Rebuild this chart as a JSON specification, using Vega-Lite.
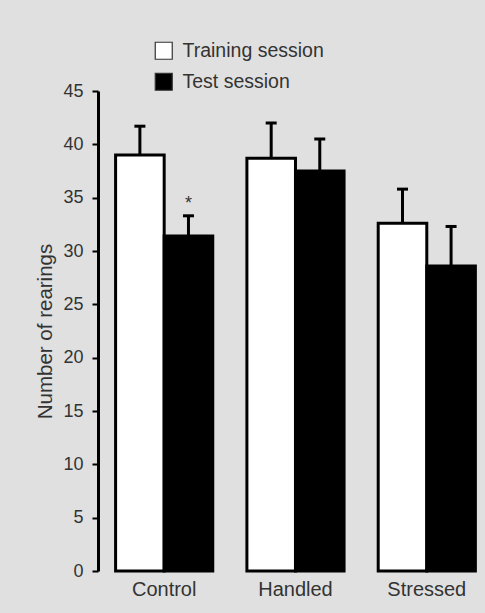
{
  "$schema": "https://vega.github.io/schema/vega-lite/v6.json",
  "autosize": "none",
  "width": 380,
  "height": 480,
  "padding": {"left": 98, "top": 91, "right": 7, "bottom": 42},
  "background": "#e0e0e0",
  "config": {
    "view": {"stroke": null},
    "font": "Liberation Sans",
    "axis": {"labelFont": "Liberation Sans", "titleFont": "Liberation Sans", "labelColor": "#333", "titleColor": "#333", "grid": false}
  },
  "datasets": {
    "bars": [
      {"group": "Control", "session": "Training session", "value": 39.0, "upper": 41.7},
      {"group": "Control", "session": "Test session", "value": 31.4, "upper": 33.3},
      {"group": "Handled", "session": "Training session", "value": 38.7, "upper": 42.0},
      {"group": "Handled", "session": "Test session", "value": 37.5, "upper": 40.5},
      {"group": "Stressed", "session": "Training session", "value": 32.6, "upper": 35.8},
      {"group": "Stressed", "session": "Test session", "value": 28.6, "upper": 32.3}
    ],
    "marks": [
      {"group": "Control", "session": "Test session", "label": "*", "pos": 34.4}
    ]
  },
  "encoding": {
    "x": {
      "field": "group", "type": "nominal",
      "scale": {"domain": ["Control", "Handled", "Stressed"], "paddingInner": 0.26, "paddingOuter": 0.077, "align": 0.87},
      "axis": {"title": null, "domain": false, "ticks": false, "labelAngle": 0, "labelFontSize": 20, "labelPadding": 8}
    },
    "xOffset": {
      "field": "session", "type": "nominal",
      "scale": {"domain": ["Training session", "Test session"], "paddingInner": 0, "paddingOuter": 0}
    }
  },
  "layer": [
    {
      "data": {"name": "bars"},
      "mark": {"type": "rule", "stroke": "black", "strokeWidth": 3},
      "encoding": {
        "y": {"field": "value", "type": "quantitative"},
        "y2": {"field": "upper"}
      }
    },
    {
      "data": {"name": "bars"},
      "mark": {"type": "tick", "orient": "horizontal", "color": "black", "size": 11, "thickness": 3, "opacity": 1},
      "encoding": {
        "y": {"field": "upper", "type": "quantitative"}
      }
    },
    {
      "data": {"name": "bars"},
      "mark": {"type": "bar", "stroke": "black", "strokeWidth": 3},
      "encoding": {
        "y": {
          "field": "value", "type": "quantitative",
          "scale": {"domain": [0, 45], "nice": false},
          "axis": {
            "title": "Number of rearings", "titleFontSize": 20.5, "titleFontWeight": "normal", "titlePadding": 7,
            "values": [0, 5, 10, 15, 20, 25, 30, 35, 40, 45],
            "labelFontSize": 18, "labelPadding": 9,
            "domainColor": "black", "domainWidth": 3,
            "tickColor": "black", "tickWidth": 2, "tickSize": 6
          }
        },
        "fill": {
          "field": "session", "type": "nominal",
          "scale": {"domain": ["Training session", "Test session"], "range": ["white", "black"]},
          "legend": {
            "title": null, "orient": "none", "legendX": 56, "legendY": -50,
            "symbolType": "square", "symbolSize": 289, "symbolStrokeWidth": 1.2, "symbolStrokeColor": "#333",
            "labelFontSize": 19.5, "labelColor": "#333", "labelFont": "Liberation Sans", "labelOffset": 9,
            "rowPadding": 8, "padding": 0
          }
        }
      }
    },
    {
      "data": {"name": "marks"},
      "mark": {"type": "text", "fontSize": 18, "color": "#333", "baseline": "middle"},
      "encoding": {
        "y": {"field": "pos", "type": "quantitative"},
        "text": {"field": "label"}
      }
    }
  ]
}
